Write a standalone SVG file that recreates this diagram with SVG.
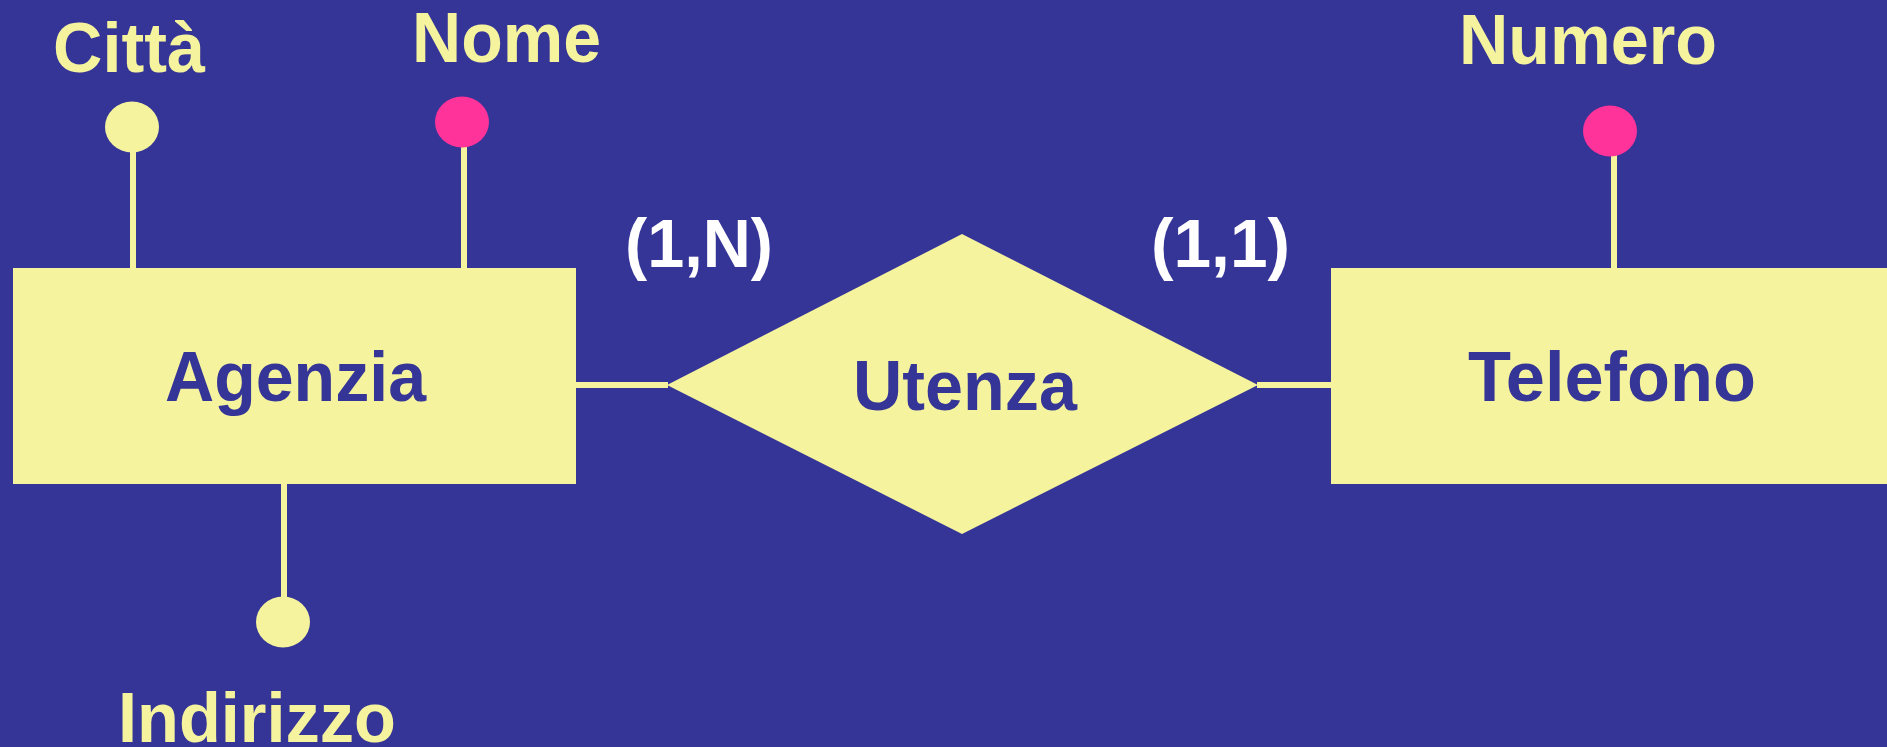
<svg xmlns="http://www.w3.org/2000/svg" width="1887" height="747" viewBox="0 0 1887 747">
  <style>
    .entity { fill: #F5F39D; }
    .rel { fill: #F5F39D; }
    .attr { fill: #F5F39D; }
    .key { fill: #FF3399; }
    .link { stroke: #F5F39D; stroke-width: 6; fill: none; }
    .name { font-family: "Liberation Sans", Arial, sans-serif; font-weight: bold; font-size: 71px; fill: #353597; }
    .label { font-family: "Liberation Sans", Arial, sans-serif; font-weight: bold; font-size: 71px; fill: #F5F39D; }
    .card { font-family: "Liberation Sans", Arial, sans-serif; font-weight: bold; font-size: 68px; fill: #FFFFFF; }
  </style>

  <rect width="1887" height="747" fill="#353597"/>

  <!-- connectors: entity/relationship links and attribute stems -->
  <g id="connectors">
    <line class="link" x1="576" y1="385" x2="668" y2="385"/>
    <line class="link" x1="1257" y1="385" x2="1331" y2="385"/>
    <line class="link" x1="133" y1="150" x2="133" y2="268"/>
    <line class="link" x1="464" y1="145" x2="464" y2="268"/>
    <line class="link" x1="1614" y1="155" x2="1614" y2="268"/>
    <line class="link" x1="284" y1="484" x2="284" y2="598"/>
  </g>

  <g id="agenzia">
    <rect class="entity" x="13" y="268" width="563" height="216"/>
    <text class="name" x="165" y="401" textLength="261" lengthAdjust="spacingAndGlyphs">Agenzia</text>
  </g>

  <g id="utenza">
    <polygon class="rel" points="962,234 1258,385 962,534 667,385"/>
    <text class="name" x="853" y="410" textLength="224" lengthAdjust="spacingAndGlyphs">Utenza</text>
  </g>

  <g id="telefono">
    <rect class="entity" x="1331" y="268" width="563" height="216"/>
    <text class="name" x="1468" y="401" textLength="288" lengthAdjust="spacingAndGlyphs">Telefono</text>
  </g>

  <g id="attr-citta">
    <ellipse class="attr" cx="132" cy="127" rx="27" ry="25.5"/>
    <text class="label" x="53" y="72" textLength="152" lengthAdjust="spacingAndGlyphs">Città</text>
  </g>

  <g id="attr-nome">
    <ellipse class="key" cx="462" cy="122" rx="27" ry="25.5"/>
    <text class="label" x="412" y="62" textLength="189" lengthAdjust="spacingAndGlyphs">Nome</text>
  </g>

  <g id="attr-indirizzo">
    <ellipse class="attr" cx="283" cy="622" rx="27" ry="25.5"/>
    <text class="label" x="118" y="742" textLength="278" lengthAdjust="spacingAndGlyphs">Indirizzo</text>
  </g>

  <g id="attr-numero">
    <ellipse class="key" cx="1610" cy="131" rx="27" ry="25.5"/>
    <text class="label" x="1459" y="64" textLength="258" lengthAdjust="spacingAndGlyphs">Numero</text>
  </g>

  <g id="cardinalities">
    <text class="card" x="625" y="267" textLength="148" lengthAdjust="spacingAndGlyphs">(1,N)</text>
    <text class="card" x="1151" y="267" textLength="139" lengthAdjust="spacingAndGlyphs">(1,1)</text>
  </g>
</svg>
